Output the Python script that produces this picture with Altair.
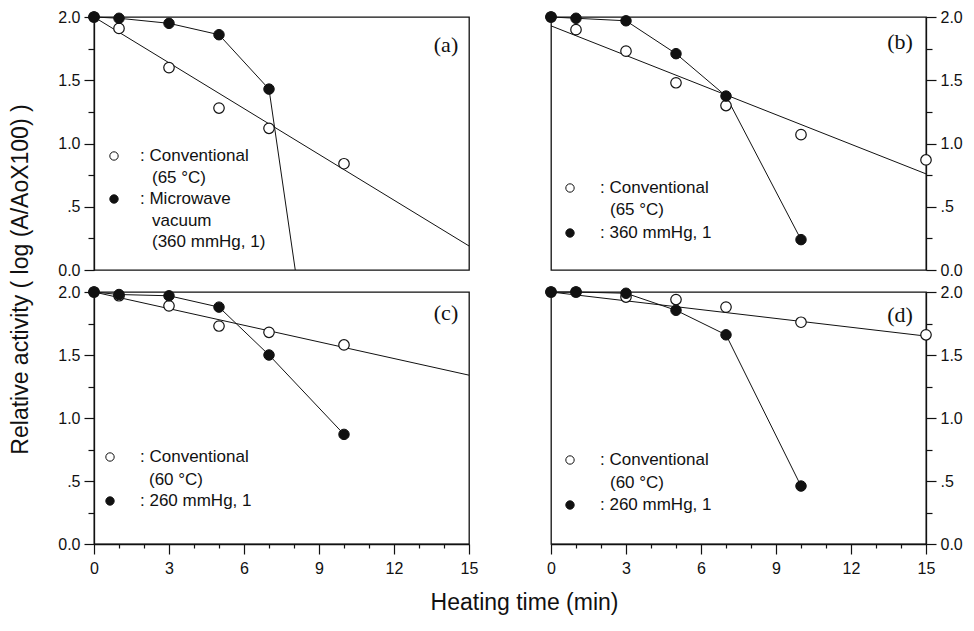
import altair as alt
import pandas as pd

# ---------------- data ----------------
# Panel (a)
a_open_x = [0, 1, 3, 5, 7, 10]
a_open_y = [2.00, 1.91, 1.60, 1.28, 1.12, 0.84]
a_fit_x = [0, 15]
a_fit_y = [2.00, 0.19]
a_fill_x = [0, 1, 3, 5, 7]
a_fill_y = [2.00, 1.99, 1.95, 1.86, 1.43]
a_fill_line_x = [0, 1, 3, 5, 7, 8.05]
a_fill_line_y = [2.00, 1.99, 1.95, 1.86, 1.43, 0.0]

# Panel (b)
b_open_x = [0, 1, 3, 5, 7, 10, 15]
b_open_y = [2.00, 1.90, 1.73, 1.48, 1.30, 1.07, 0.87]
b_fit_x = [0, 15]
b_fit_y = [1.93, 0.76]
b_fill_x = [0, 1, 3, 5, 7, 10]
b_fill_y = [2.00, 1.99, 1.97, 1.71, 1.375, 0.24]

# Panel (c)
c_open_x = [0, 1, 3, 5, 7, 10]
c_open_y = [2.00, 1.97, 1.89, 1.73, 1.68, 1.58]
c_fit_x = [0, 15]
c_fit_y = [2.00, 1.34]
c_fill_x = [0, 1, 3, 5, 7, 10]
c_fill_y = [2.00, 1.98, 1.97, 1.88, 1.50, 0.87]

# Panel (d)
d_open_x = [0, 1, 3, 5, 7, 10, 15]
d_open_y = [2.00, 2.00, 1.96, 1.94, 1.88, 1.76, 1.66]
d_fit_x = [0, 15]
d_fit_y = [2.00, 1.65]
d_fill_x = [0, 1, 3, 5, 7, 10]
d_fill_y = [2.00, 2.00, 1.99, 1.855, 1.66, 0.46]

panel_labels = ["(a)", "(b)", "(c)", "(d)"]
legend_a = [": Conventional", "(65 °C)", ": Microwave", "vacuum", "(360 mmHg, 1)"]
legend_b = [": Conventional", "(65 °C)", ": 360 mmHg, 1"]
legend_c = [": Conventional", "(60 °C)", ": 260 mmHg, 1"]
legend_d = [": Conventional", "(60 °C)", ": 260 mmHg, 1"]

x_ticks = list(range(16))
y_ticks = [0, 0.25, 0.5, 0.75, 1.0, 1.25, 1.5, 1.75, 2.0]

x_title = "Heating time (min)"
y_title = "Relative activity ( log (A/AoX100) )"

# ---------------- helpers ----------------
W, H_TOP, H_BOT = 375, 253, 252
FONT = "Liberation Sans"
INK = "#111111"

y_label_expr = ("datum.value == 0 ? '0.0' : datum.value == 0.5 ? '.5' : "
                "datum.value == 1 ? '1.0' : datum.value == 1.5 ? '1.5' : "
                "datum.value == 2 ? '2.0' : ''")


def x_enc(show_axis, with_title=False):
    if not show_axis:
        axis = None
    else:
        kw = dict(
            values=x_ticks,
            labelExpr="datum.value % 3 === 0 ? datum.label : ''",
            tickSize={"condition": {"test": "datum.value % 3 === 0", "value": 10}, "value": 4},
            labelOverlap=False, labelFlush=False, grid=False,
            labelPadding=6, labelFontSize=16,
        )
        if with_title:
            kw.update(title=x_title, titleX=430, titleY=58, titleAlign="center",
                      titleBaseline="middle", titleFontSize=23, titleFontWeight="normal")
        else:
            kw.update(title=None)
        axis = alt.Axis(**kw)
    return alt.X("x:Q", scale=alt.Scale(domain=[0, 15], nice=False, zero=False), axis=axis)


def y_enc(orient, with_title=False):
    kw = dict(
        orient=orient, values=y_ticks, labelExpr=y_label_expr,
        tickSize={"condition": {"test": "datum.value % 0.5 === 0", "value": 10}, "value": 6},
        labelOverlap=False, labelFlush=False, grid=False, labelPadding=4, labelFontSize=16,
    )
    if with_title:
        kw.update(title=y_title, titleX=-74, titleY=-13, titleAlign="center",
                  titleBaseline="middle", titleAngle=270, titleFontSize=23,
                  titleFontWeight="normal")
    else:
        kw.update(title=None)
    return alt.Y("y:Q", scale=alt.Scale(domain=[0, 2], nice=False, zero=False),
                 axis=alt.Axis(**kw))


def txt(s, x, y, size=17, font=FONT):
    return alt.Chart(pd.DataFrame({"t": [s]})).mark_text(
        align="left", baseline="middle", fontSize=size, font=font, color=INK
    ).encode(text="t:N", x=alt.value(x), y=alt.value(y))


def sym(filled, x, y):
    return alt.Chart(pd.DataFrame({"t": [0]})).mark_point(
        shape="circle", filled=True, fill=INK if filled else "white",
        stroke=INK, strokeWidth=1, size=70, opacity=1
    ).encode(x=alt.value(x), y=alt.value(y))


def panel(open_x, open_y, fit_x, fit_y, fill_x, fill_y, line_x, line_y,
          label, label_pos, legend_layers, orient, show_x, height,
          x_title_on=False, y_title_on=False):
    xe = x_enc(show_x, x_title_on)
    ye = y_enc(orient, y_title_on)
    fit = alt.Chart(pd.DataFrame({"x": fit_x, "y": fit_y})).mark_line(
        color=INK, strokeWidth=1).encode(x=xe, y=ye)
    fline = alt.Chart(pd.DataFrame({"x": line_x, "y": line_y})).mark_line(
        color=INK, strokeWidth=1).encode(x=xe, y=ye)
    opts = alt.Chart(pd.DataFrame({"x": open_x, "y": open_y})).mark_point(
        shape="circle", filled=True, fill="white", stroke=INK, strokeWidth=1.2,
        size=110, opacity=1).encode(x=xe, y=ye)
    fpts = alt.Chart(pd.DataFrame({"x": fill_x, "y": fill_y})).mark_point(
        shape="circle", filled=True, fill=INK, stroke=INK, strokeWidth=1,
        size=110, opacity=1).encode(x=xe, y=ye)
    lab = alt.Chart(pd.DataFrame({"t": [label]})).mark_text(
        align="center", baseline="middle", fontSize=22, font="Liberation Serif",
        color=INK).encode(text="t:N", x=alt.value(label_pos[0]), y=alt.value(label_pos[1]))
    return alt.layer(fit, fline, opts, fpts, lab, *legend_layers).properties(
        width=W, height=height)


leg_a = [sym(False, 20, 139), txt(legend_a[0], 46, 139), txt(legend_a[1], 58, 161),
         sym(True, 20, 182), txt(legend_a[2], 46, 182), txt(legend_a[3], 58, 204),
         txt(legend_a[4], 58, 225)]
leg_b = [sym(False, 19, 171), txt(legend_b[0], 49, 171), txt(legend_b[1], 59, 193),
         sym(True, 19, 216), txt(legend_b[2], 49, 216)]
leg_c = [sym(False, 16, 165), txt(legend_c[0], 46, 165), txt(legend_c[1], 55, 188),
         sym(True, 16, 209), txt(legend_c[2], 46, 209)]
leg_d = [sym(False, 19, 168), txt(legend_d[0], 49, 168), txt(legend_d[1], 59, 191),
         sym(True, 19, 213), txt(legend_d[2], 49, 213)]

pa = panel(a_open_x, a_open_y, a_fit_x, a_fit_y, a_fill_x, a_fill_y,
           a_fill_line_x, a_fill_line_y, panel_labels[0], (352, 28), leg_a,
           "left", False, H_TOP)
pb = panel(b_open_x, b_open_y, b_fit_x, b_fit_y, b_fill_x, b_fill_y,
           b_fill_x, b_fill_y, panel_labels[1], (349, 25), leg_b,
           "right", False, H_TOP)
pc = panel(c_open_x, c_open_y, c_fit_x, c_fit_y, c_fill_x, c_fill_y,
           c_fill_x, c_fill_y, panel_labels[2], (352, 21), leg_c,
           "left", True, H_BOT, x_title_on=True, y_title_on=True)
pd_ = panel(d_open_x, d_open_y, d_fit_x, d_fit_y, d_fill_x, d_fill_y,
            d_fill_x, d_fill_y, panel_labels[3], (349, 23), leg_d,
            "right", True, H_BOT)

chart = alt.concat(pa, pb, pc, pd_, columns=2, bounds="flush",
                   spacing={"row": 22, "column": 82}).properties(
    padding={"left": 0, "top": 0, "right": 0, "bottom": 0},
    background="white",
).configure_view(
    stroke=INK, strokeWidth=1.3
).configure_axis(
    domainColor=INK, domainWidth=1.3, tickColor=INK, tickWidth=1.2,
    labelColor=INK, titleColor=INK, labelFont=FONT, titleFont=FONT,
)

chart.save("out.html", embed_options={"renderer": "svg", "actions": False})
